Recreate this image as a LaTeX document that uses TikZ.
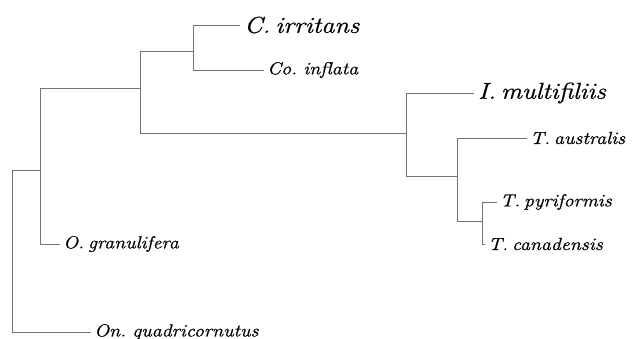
\documentclass[tikz,border=0pt]{standalone}
\usepackage{fontspec}
\newfontfamily\labfont[FakeBold=0.8,FakeStretch=1.14,WordSpace=0.55]{Latin Modern Roman}
\begin{document}
\begin{tikzpicture}[x=1pt,y=-1pt,
  branch/.style={draw=black!55,line width=0.7pt},
  taxon/.style={anchor=west,inner xsep=3pt,inner ysep=0pt,font=\labfont\fontsize{17.5}{20}\selectfont\itshape},
  bigtaxon/.style={anchor=west,inner xsep=4pt,inner ysep=0pt,font=\labfont\fontsize{23}{27}\selectfont\itshape}]
\useasboundingbox (0,0) rectangle (634,339);
% internal nodes
\coordinate (r)  at (12,251);
\coordinate (n1) at (40,170);
\coordinate (n2) at (140,88);
\coordinate (n3) at (193,51);
\coordinate (n4) at (406,133);
\coordinate (n5) at (457,176);
\coordinate (n6) at (482,221);
% leaves
\node[bigtaxon] (cirr) at (240,25) {C. irritans};
\node[taxon] (coinf) at (264,70) {Co. inflata};
\node[bigtaxon] (imul) at (474,93) {I. multifiliis};
\node[taxon] (taus) at (527,138) {T. australis};
\node[taxon] (tpyr) at (497,202) {T. pyriformis};
\node[taxon] (tcan) at (485,244) {T. canadensis};
\node[taxon] (ogra) at (60,244) {O. granulifera};
\node[taxon] (onqu) at (91,332) {On. quadricornutus};
% branches
\draw[branch] (r) |- (n1);
\draw[branch] (r) |- (onqu.west);
\draw[branch] (n1) |- (n2);
\draw[branch] (n1) |- (ogra.west);
\draw[branch] (n2) |- (n3);
\draw[branch] (n2) |- (n4);
\draw[branch] (n3) |- (cirr.west);
\draw[branch] (n3) |- (coinf.west);
\draw[branch] (n4) |- (imul.west);
\draw[branch] (n4) |- (n5);
\draw[branch] (n5) |- (taus.west);
\draw[branch] (n5) |- (n6);
\draw[branch] (n6) |- (tpyr.west);
\draw[branch] (n6) |- (tcan.west);
\end{tikzpicture}
\end{document}
